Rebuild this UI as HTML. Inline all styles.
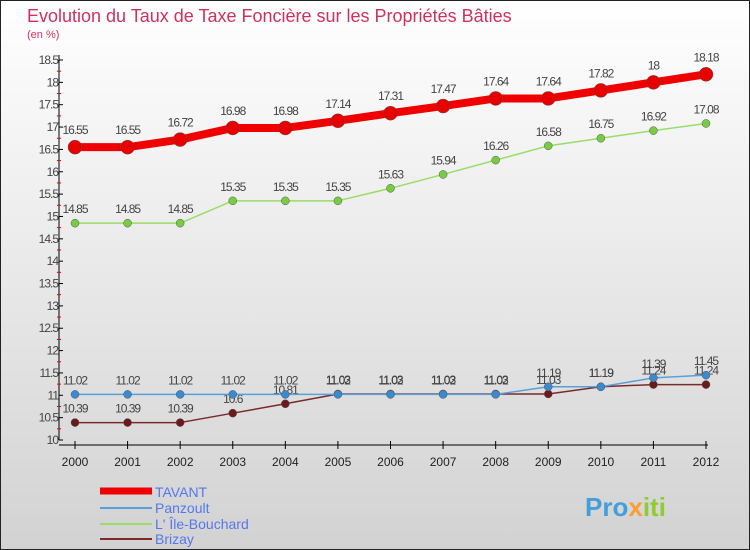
<!DOCTYPE html>
<html><head><meta charset="utf-8"><style>
body{margin:0;width:750px;height:550px;overflow:hidden;font-family:"Liberation Sans",sans-serif}
svg{display:block}
</style></head><body>
<svg id="chart" width="750" height="550" xmlns="http://www.w3.org/2000/svg">
<defs><linearGradient id="bg" x1="0" y1="0" x2="0" y2="1"><stop offset="0" stop-color="#ffffff"/><stop offset="1" stop-color="#d2d2d2"/></linearGradient></defs>
<rect x="0.5" y="0.5" width="749" height="549" fill="url(#bg)" stroke="#222"/>
<text x="27" y="22" font-size="18" fill="#d03060">Evolution du Taux de Taxe Foncière sur les Propriétés Bâties</text>
<text x="27" y="38" font-size="11" fill="#d03060">(en %)</text>
<g id="axes"></g><g id="series"></g>
<g>
<line x1="100" y1="491" x2="152" y2="491" stroke="#f00000" stroke-width="7"/>
<text x="155" y="497" font-size="14" fill="#5577ee">TAVANT</text>
<line x1="100" y1="508" x2="152" y2="508" stroke="#5aa0d8" stroke-width="2"/>
<text x="155" y="513" font-size="14" fill="#5577ee">Panzoult</text>
<line x1="100" y1="524" x2="152" y2="524" stroke="#99dd66" stroke-width="2"/>
<text x="155" y="529" font-size="14" fill="#5577ee">L' Île-Bouchard</text>
<line x1="100" y1="539" x2="152" y2="539" stroke="#7a2a2a" stroke-width="2"/>
<text x="155" y="544" font-size="14" fill="#5577ee">Brizay</text>
</g>
<text x="585" y="516" font-size="26" font-weight="bold" opacity="0.9"><tspan fill="#3399dd">Pro</tspan><tspan fill="#ff9922">x</tspan><tspan fill="#88cc22">iti</tspan></text>
</svg>
<script>
const years=[2000,2001,2002,2003,2004,2005,2006,2007,2008,2009,2010,2011,2012];
const tavant=[16.55,16.55,16.72,16.98,16.98,17.14,17.31,17.47,17.64,17.64,17.82,18,18.18];
const panzoult=[11.02,11.02,11.02,11.02,11.02,11.02,11.02,11.02,11.02,11.19,11.19,11.39,11.45];
const ileBouchard=[14.85,14.85,14.85,15.35,15.35,15.35,15.63,15.94,16.26,16.58,16.75,16.92,17.08];
const brizay=[10.39,10.39,10.39,10.6,10.81,11.03,11.03,11.03,11.03,11.03,11.19,11.24,11.24];
const yTicks=[10,10.5,11,11.5,12,12.5,13,13.5,14,14.5,15,15.5,16,16.5,17,17.5,18,18.5];
const NS="http://www.w3.org/2000/svg";
const yMin=10,yMax=18.5,yTop=60,yBot=440,x0=75,x1=706,axisX=59;
const X=i=>x0+(x1-x0)*i/(years.length-1);
const Y=v=>yBot-(v-yMin)/(yMax-yMin)*(yBot-yTop);
function mk(t,a,p){const e=document.createElementNS(NS,t);for(const k in a)e.setAttribute(k,a[k]);p.appendChild(e);return e;}
const ax=document.getElementById('axes');
const yl=mk('line',{x1:axisX,y1:yTop-5,x2:axisX,y2:yBot,stroke:'#000'},ax);


const xl=mk('line',{x1:axisX,y1:yBot+5,x2:x1+2,y2:yBot+5,stroke:'#000'},ax);


yTicks.forEach((v,i)=>{
 mk('line',{x1:axisX,y1:Y(v),x2:axisX+4,y2:Y(v),stroke:'#000'},ax);
 if(i<yTicks.length-1) mk('line',{x1:axisX-2,y1:Y(v+0.25),x2:axisX+2,y2:Y(v+0.25),stroke:'#e00'},ax);
 const t=mk('text',{x:axisX-1,y:Y(v)+4,'font-size':12,'text-anchor':'end',fill:'#444','letter-spacing':'-1'},ax);
 t.textContent=String(v);
 
 
});
years.forEach((yr,i)=>{
 mk('line',{x1:X(i),y1:yBot+1,x2:X(i),y2:yBot+9,stroke:'#000'},ax);
 const t=mk('text',{x:X(i),y:yBot+26,'font-size':12,'text-anchor':'middle',fill:'#222'},ax);
 t.textContent=yr;
 
 
});
const sg=document.getElementById('series');
function series(vals,color,w,r,name,dotFill){
 const g=mk('g',{},sg);
 
 
 const p=mk('polyline',{points:vals.map((v,i)=>X(i)+','+Y(v)).join(' '),fill:'none',stroke:color,'stroke-width':w,'stroke-linejoin':'round'},g);
 
 
 vals.forEach((v,i)=>{
  const c=mk('circle',{cx:X(i),cy:Y(v),r:r,fill:dotFill,stroke:'#555','stroke-width':0.5},g);
  
  
  const t=mk('text',{x:X(i),y:Y(v)-(r+6),'font-size':12,'text-anchor':'middle',fill:'#444','letter-spacing':'-1'},g);
  t.textContent=String(v);
  
  
 });
}
series(brizay,'#7a2a2a',1.5,4,'brizay','#6a1a1a');
series(panzoult,'#5aa0d8',1.5,4,'panzoult','#3a8ad0');
series(ileBouchard,'#99dd66',1.5,4,'ile-bouchard','#77cc44');
series(tavant,'#f00000',8,7,'tavant','#e80000');
</script>
</body></html>
